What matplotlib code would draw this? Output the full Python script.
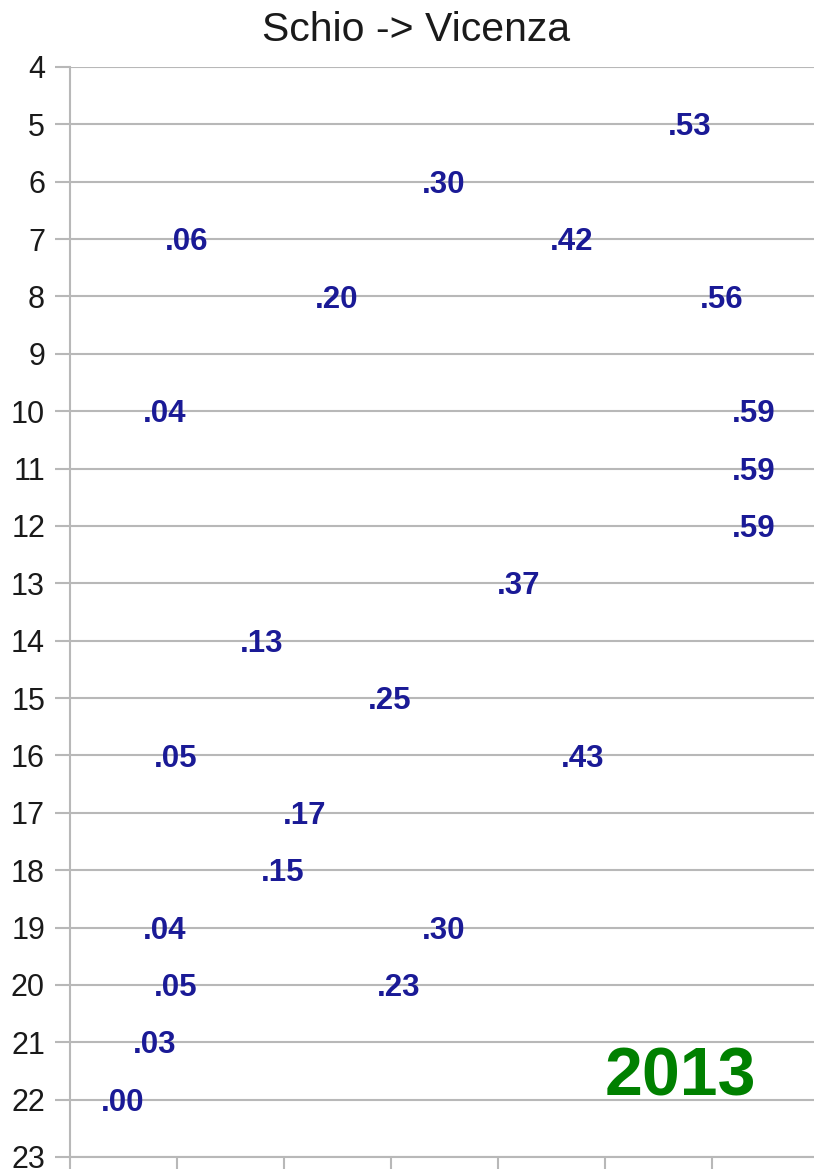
import matplotlib.pyplot as plt
import numpy as np

# Departures Schio -> Vicenza, 2013: hour and minute of each train
hours = [5, 6, 7, 7, 8, 8, 10, 10, 11, 12, 13, 14, 15, 16, 16, 17, 18, 19, 19, 20, 20, 21, 22]
minutes = [53, 30, 6, 42, 20, 56, 4, 59, 59, 59, 37, 13, 25, 5, 43, 17, 15, 4, 30, 5, 23, 3, 0]
# where the labels sit on the time axis (the .23 one is drawn a bit further right)
x_pos = [53, 30, 6, 42, 20, 56, 4, 59, 59, 59, 37, 13, 25, 5, 43, 17, 15, 4, 30, 5, 25.8, 3, 0]
y_ticks = list(range(4, 24))
x_ticks = list(range(0, 70, 10))

plt.rcParams['font.family'] = ['Liberation Sans', 'DejaVu Sans']

fig = plt.figure(figsize=(8.14, 11.69), dpi=100)
ax = fig.add_axes([70 / 814, 12 / 1169, 744 / 814, 1090 / 1169])

# invisible points, only the labels show
ax.plot(x_pos, hours, linestyle='none', marker='none')
for x, h, m in zip(x_pos, hours, minutes):
    ax.annotate('.%02d' % m, (x, h), xytext=(22, -8), textcoords='offset points',
                ha='left', va='baseline', fontsize=22.5, fontweight='bold', color='#1a1a96')

ax.set_xlim(0, 744 / 10.7)
ax.set_ylim(23, 4)
ax.set_yticks(y_ticks)
ax.set_xticks(x_ticks)
ax.set_xticklabels([])
ax.grid(axis='y', color='#b8b8b8', linewidth=1.5)
ax.set_axisbelow(True)

for s in ['top', 'right']:
    ax.spines[s].set_visible(False)
for s in ['left', 'bottom']:
    ax.spines[s].set_color('#b8b8b8')
    ax.spines[s].set_linewidth(1.5)
ax.tick_params(axis='both', direction='out', length=11, width=1.5, color='#b8b8b8',
               labelsize=22, labelcolor='#1a1a1a', pad=7)

fig.text(416 / 814, 1 - 30 / 1169, 'Schio -> Vicenza', ha='center', va='center',
         fontsize=29.5, color='#1a1a1a')
fig.text(680 / 814, 1 - 1077 / 1169, '2013', ha='center', va='center',
         fontsize=49, fontweight='bold', color='#008000')

fig.savefig('out.png', dpi=100)
